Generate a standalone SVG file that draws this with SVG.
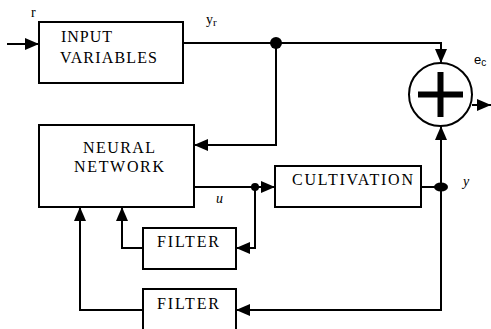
<svg xmlns="http://www.w3.org/2000/svg" width="491" height="329" viewBox="0 0 491 329">
<style>
.box{fill:#fff;stroke:#000;stroke-width:2}
.ln{fill:none;stroke:#000;stroke-width:2}
.t{font-family:'Liberation Serif','Times New Roman',serif;font-size:16px;fill:#000}
.lbl{font-family:'Liberation Serif','Times New Roman',serif;font-size:14px;fill:#000}
.s{font-family:'Liberation Sans',Arial,sans-serif;font-size:13px;fill:#000}
</style>
<defs>
<marker id="ah" markerUnits="userSpaceOnUse" markerWidth="14" markerHeight="12" refX="14" refY="6" orient="auto">
<path d="M0,0 L14,6 L0,12 Z" fill="#000"/>
</marker>
</defs>
<rect width="491" height="329" fill="#fff"/>
<g id="connectors">
<line class="ln" x1="7" y1="44" x2="39" y2="44" marker-end="url(#ah)"/>
<polyline class="ln" points="183,43 441,43 441,63" marker-end="url(#ah)"/>
<polyline class="ln" points="276,43 276,145 194,145" marker-end="url(#ah)"/>
<line class="ln" x1="472" y1="105" x2="491" y2="105" marker-end="url(#ah)"/>
<line class="ln" x1="194" y1="187" x2="275" y2="187" marker-end="url(#ah)"/>
<polyline class="ln" points="255,187 255,248 236,248" marker-end="url(#ah)"/>
<polyline class="ln" points="143,248 122,248 122,207" marker-end="url(#ah)"/>
<line class="ln" x1="421" y1="187" x2="441" y2="187"/>
<line class="ln" x1="441" y1="187" x2="441" y2="126" marker-end="url(#ah)"/>
<polyline class="ln" points="441,187 441,310 236,310" marker-end="url(#ah)"/>
<polyline class="ln" points="143,310 80,310 80,207" marker-end="url(#ah)"/>
<circle cx="276" cy="43" r="6" fill="#000"/>
<circle cx="255" cy="187" r="4" fill="#000"/>
<ellipse cx="441" cy="187" rx="7" ry="4.5" fill="#000"/>
</g>
<g id="input">
<rect class="box" x="39" y="22" width="144" height="61"/>
<text class="t" x="61" y="42" textLength="51" lengthAdjust="spacing">INPUT</text>
<text class="t" x="60" y="63" textLength="97" lengthAdjust="spacing">VARIABLES</text>
</g>
<g id="sum">
<circle cx="440.5" cy="94.5" r="31.5" fill="#fff" stroke="#000" stroke-width="2"/>
<rect x="418" y="91.5" width="45" height="6" fill="#000"/>
<rect x="437.5" y="72" width="6" height="45" fill="#000"/>
</g>
<g id="neural">
<rect class="box" x="39" y="125" width="155" height="82"/>
<text class="t" x="83" y="153" textLength="72" lengthAdjust="spacing">NEURAL</text>
<text class="t" x="74" y="172" textLength="90" lengthAdjust="spacing">NETWORK</text>
</g>
<g id="cultivation">
<rect class="box" x="275" y="166" width="146" height="41"/>
<text class="t" x="292" y="185" textLength="121" lengthAdjust="spacing">CULTIVATION</text>
</g>
<g id="filter1">
<rect class="box" x="143" y="228" width="93" height="41"/>
<text class="t" x="157" y="247" textLength="62" lengthAdjust="spacing">FILTER</text>
</g>
<g id="filter2">
<rect class="box" x="143" y="289" width="93" height="45"/>
<text class="t" x="157" y="309" textLength="62" lengthAdjust="spacing">FILTER</text>
</g>
<g id="labels">
<text class="lbl" x="31" y="17">r</text>
<text class="lbl" x="206" y="24">y<tspan font-size="11" dy="2">r</tspan></text>
<text class="s" x="474" y="64">e<tspan font-size="10" dy="2">c</tspan></text>
<text class="lbl" x="216" y="203" font-style="italic">u</text>
<text class="lbl" x="463" y="186" font-style="italic">y</text>
</g>
</svg>
